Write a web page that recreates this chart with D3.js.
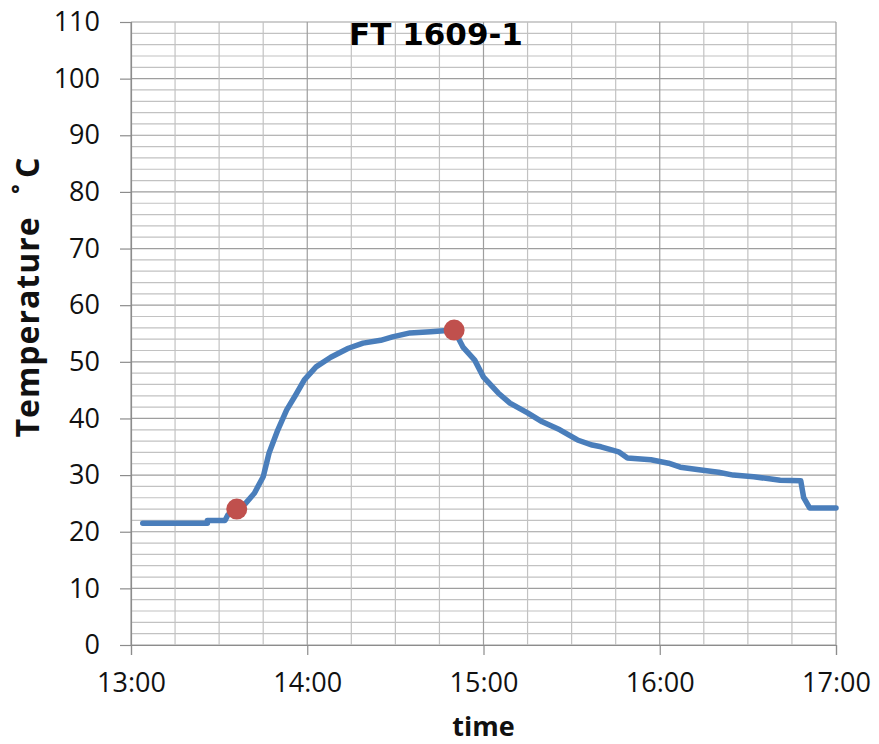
<!DOCTYPE html>
<html>
<head>
<meta charset="utf-8">
<script src="https://cdn.jsdelivr.net/npm/d3@7"></script>
<style>
  html, body { margin: 0; padding: 0; background: #fff; }
  svg { display: block; }
</style>
</head>
<body>
<div id="chart"></div>
<script>
// data
const times = ["13:04","13:26","13:26","13:32","13:33","13:36","13:39","13:42","13:45","13:47",
  "13:50","13:53","13:56","13:59","14:03","14:08","14:14","14:19","14:25","14:29",
  "14:35","14:42","14:50","14:53","14:57","15:00","15:05","15:09","15:15","15:20",
  "15:26","15:32","15:37","15:40","15:46","15:49","15:57","16:03","16:07","16:14",
  "16:20","16:25","16:32","16:41","16:48","16:49","16:51","17:00"];
const temps = [21.5,21.5,22.0,22.0,23.0,24.0,25.0,26.8,29.7,33.9,
  38.0,41.5,44.1,46.8,49.1,50.8,52.4,53.3,53.8,54.4,
  55.1,55.3,55.6,52.6,50.3,47.3,44.5,42.7,41.0,39.4,
  38.0,36.2,35.3,35.0,34.1,33.0,32.7,32.1,31.4,30.9,
  30.5,30.0,29.7,29.1,29.0,26.0,24.2,24.2];
const markerTimes = ["13:36", "14:50"];
const markerTemps = [24.0, 55.6];
const xTickLabels = ["13:00", "14:00", "15:00", "16:00", "17:00"];
const yTicks = [0, 10, 20, 30, 40, 50, 60, 70, 80, 90, 100, 110];

const width = 879, height = 744;
const margin = { top: 22, right: 43, bottom: 99, left: 131 };
const w = width - margin.left - margin.right;
const h = height - margin.top - margin.bottom;

const parse = d3.timeParse("%H:%M");
const fmt = d3.timeFormat("%H:%M");

const svg = d3.select("#chart").append("svg")
  .attr("width", width)
  .attr("height", height);
const g = svg.append("g").attr("transform", `translate(${margin.left},${margin.top})`);

const x = d3.scaleTime().domain([parse("13:00"), parse("17:00")]).range([0, w]);
const y = d3.scaleLinear().domain([0, 110]).range([h, 0]);

// grid - every 2 degrees / 15 minutes, darker on 10 and full hours
const yGrid = d3.range(0, 111, 2);
g.append("g").selectAll("line")
  .data(yGrid)
  .enter().append("line")
  .attr("x1", 0).attr("x2", w)
  .attr("y1", d => y(d)).attr("y2", d => y(d))
  .attr("stroke", d => d % 10 === 0 ? "#9e9e9e" : "#c2c2c2")
  .attr("stroke-width", 1.2);

const xGrid = d3.timeMinute.every(15).range(parse("13:00"), d3.timeMinute.offset(parse("17:00"), 1));
g.append("g").selectAll("line")
  .data(xGrid)
  .enter().append("line")
  .attr("x1", d => x(d)).attr("x2", d => x(d))
  .attr("y1", 0).attr("y2", h)
  .attr("stroke", d => d.getMinutes() === 0 ? "#9e9e9e" : "#c2c2c2")
  .attr("stroke-width", 1.2);

// axes
const yAxis = g.append("g")
  .call(d3.axisLeft(y).tickValues(yTicks).tickSize(11).tickPadding(20));
yAxis.select(".domain").attr("stroke", "#8c8c8c").attr("stroke-width", 1.2);
yAxis.selectAll(".tick line").attr("stroke", "#8c8c8c").attr("stroke-width", 1.2);
yAxis.selectAll("text")
  .style("font-family", "'Open Sans', sans-serif")
  .style("font-size", "27px")
  .style("fill", "#111");

const xAxis = g.append("g")
  .attr("transform", `translate(0,${h})`)
  .call(d3.axisBottom(x).tickValues(xTickLabels.map(parse)).tickFormat(fmt).tickSize(10).tickPadding(18));
xAxis.select(".domain").attr("stroke", "#8c8c8c").attr("stroke-width", 1.2);
xAxis.selectAll(".tick line").attr("stroke", "#8c8c8c").attr("stroke-width", 1.2);
xAxis.selectAll("text")
  .style("font-family", "'Open Sans', sans-serif")
  .style("font-size", "27px")
  .style("fill", "#111");

// temperature line
const data = times.map((t, i) => ({ t: parse(t), v: temps[i] }));
const line = d3.line().x(d => x(d.t)).y(d => y(d.v));
g.append("path")
  .datum(data)
  .attr("d", line)
  .attr("fill", "none")
  .attr("stroke", "#4a7ebb")
  .attr("stroke-width", 5.5)
  .attr("stroke-linejoin", "round")
  .attr("stroke-linecap", "round");

// red points
const marks = markerTimes.map((t, i) => ({ t: parse(t), v: markerTemps[i] }));
g.selectAll(".mark")
  .data(marks)
  .enter().append("circle")
  .attr("class", "mark")
  .attr("cx", d => x(d.t))
  .attr("cy", d => y(d.v))
  .attr("r", 10.5)
  .attr("fill", "#c0504d");

// titles
svg.append("text")
  .attr("x", 436)
  .attr("y", 45)
  .attr("text-anchor", "middle")
  .style("font-family", "'DejaVu Sans', sans-serif")
  .style("font-weight", "700")
  .style("font-size", "31px")
  .style("fill", "#000")
  .text("FT 1609-1");

svg.append("text")
  .attr("x", margin.left + w / 2)
  .attr("y", 736)
  .attr("text-anchor", "middle")
  .style("font-family", "'Open Sans', sans-serif")
  .style("font-weight", "700")
  .style("font-size", "27px")
  .style("fill", "#111")
  .text("time");

const yTitle = svg.append("text")
  .attr("transform", "translate(39,297) rotate(-90)")
  .attr("text-anchor", "middle")
  .style("font-family", "'Open Sans', sans-serif")
  .style("font-weight", "700")
  .style("font-size", "32px")
  .style("letter-spacing", "1px")
  .style("fill", "#111");
yTitle.append("tspan").text("Temperature");
yTitle.append("tspan").attr("dx", 22).text("˚");
yTitle.append("tspan").attr("dx", 5).text("C");
</script>
</body>
</html>
